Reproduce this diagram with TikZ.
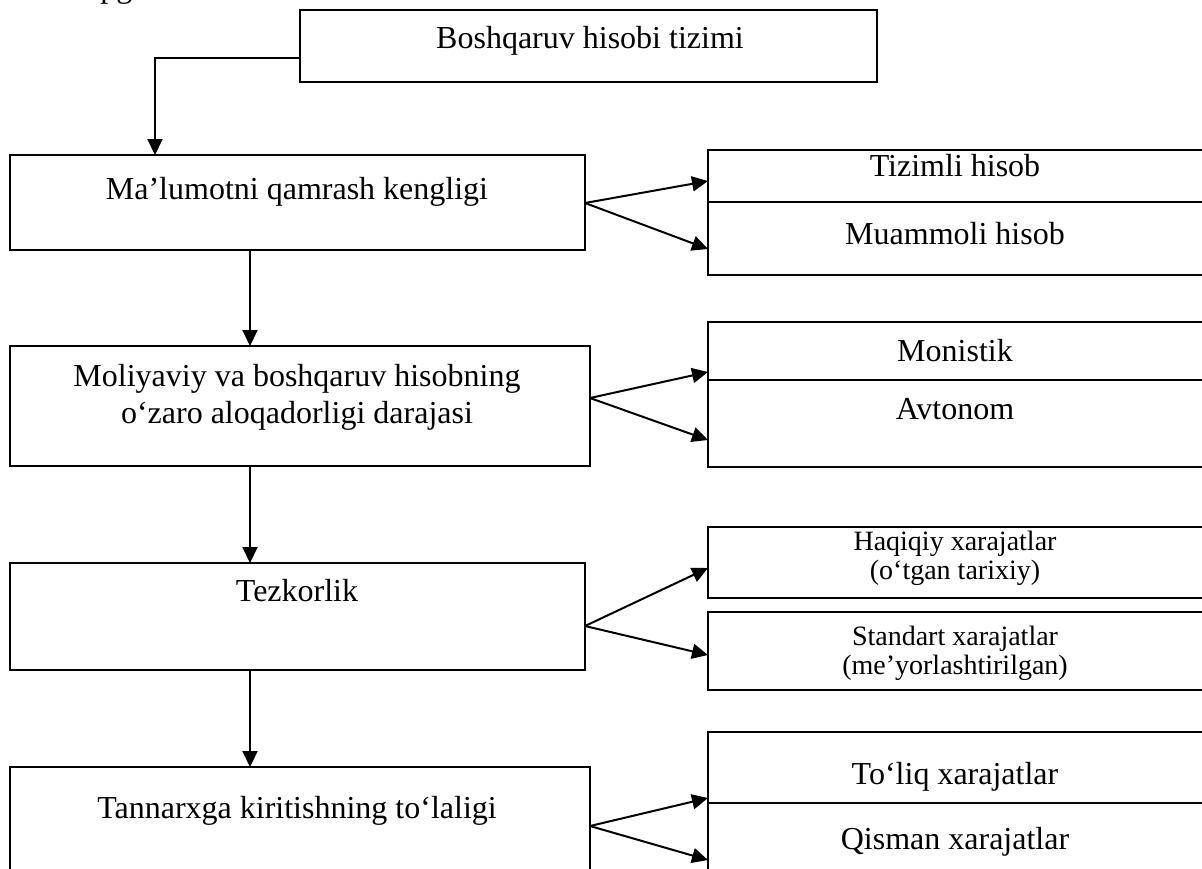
\documentclass[tikz,border=0pt]{standalone}
\usepackage{fontspec}
\setmainfont{Liberation Serif}
\usetikzlibrary{arrows.meta}
\begin{document}
\begin{tikzpicture}[x=0.5pt,y=-0.5pt,
  box/.style={draw, line width=1pt},
  txt/.style={font=\fontsize{16pt}{18.5pt}\selectfont, align=center, inner sep=0pt},
  small/.style={font=\fontsize{14pt}{14.5pt}\selectfont, align=center, inner sep=0pt},
  arr/.style={line width=1pt, -{Triangle[length=8pt,width=7.5pt]}},
  ln/.style={line width=1pt}]
\useasboundingbox (0,0) rectangle (1202,868);
% fragment at the top
\node[font=\fontsize{16pt}{18.5pt}\selectfont, inner sep=0pt, anchor=base west] (frag) at (100,-3) {pg};
% top box
\draw[box] (300,10) rectangle (877,82);
\coordinate (T) at (300,58);
\node[txt] (Tt) at (590,41) {Boshqaruv hisobi tizimi};
% left column boxes
\draw[box] (10,155) rectangle (585,250);
\node[txt] (At) at (297,192) {Ma’lumotni qamrash kengligi};
\draw[box] (10,346) rectangle (590,466);
\node[txt] (Bt) at (297,397) {Moliyaviy va boshqaruv hisobning\\o‘zaro aloqadorligi darajasi};
\draw[box] (10,563) rectangle (585,670);
\node[txt] (Ct) at (297,591) {Tezkorlik};
\draw[box] (10,767) rectangle (590,900);
\node[txt] (Dt) at (297,811) {Tannarxga kiritishning to‘laligi};
% right boxes
\draw[box] (708,150) rectangle (1215,202);
\draw[box] (708,202) rectangle (1215,275);
\node[txt] (A1) at (955,166) {Tizimli hisob};
\node[txt] (A2) at (955,234) {Muammoli hisob};
\draw[box] (708,322) rectangle (1215,380);
\draw[box] (708,380) rectangle (1215,467);
\node[txt] (B1) at (955,351) {Monistik};
\node[txt] (B2) at (955,409) {Avtonom};
\draw[box] (708,527) rectangle (1215,598);
\node[small] (C1) at (955,558) {Haqiqiy xarajatlar\\(o‘tgan tarixiy)};
\draw[box] (708,612) rectangle (1215,690);
\node[small] (C2) at (955,653) {Standart xarajatlar\\(me’yorlashtirilgan)};
\draw[box] (708,732) rectangle (1215,803);
\draw[box] (708,803) rectangle (1215,900);
\node[txt] (D1) at (955,777) {To‘liq xarajatlar};
\node[txt] (D2) at (955,842) {Qisman xarajatlar};
% connectors
\coordinate (Atop) at (155,155);
\draw[arr] (T) -| (Atop);
\coordinate (Abot) at (250,250);
\coordinate (Btop) at (250,346);
\draw[arr] (Abot) -- (Btop);
\coordinate (Bbot) at (250,466);
\coordinate (Ctop) at (250,563);
\draw[arr] (Bbot) -- (Ctop);
\coordinate (Cbot) at (250,670);
\coordinate (Dtop) at (250,767);
\draw[arr] (Cbot) -- (Dtop);
% fan arrows
\coordinate (Ao) at (585,203);
\draw[arr] (Ao) -- (708,181);
\draw[arr] (Ao) -- (708,249);
\coordinate (Bo) at (590,398);
\draw[arr] (Bo) -- (708,372);
\draw[arr] (Bo) -- (708,440);
\coordinate (Co) at (585,626);
\draw[arr] (Co) -- (708,568);
\draw[arr] (Co) -- (708,655);
\coordinate (Do) at (590,826);
\draw[arr] (Do) -- (708,798);
\draw[arr] (Do) -- (708,860);
\end{tikzpicture}
\end{document}
